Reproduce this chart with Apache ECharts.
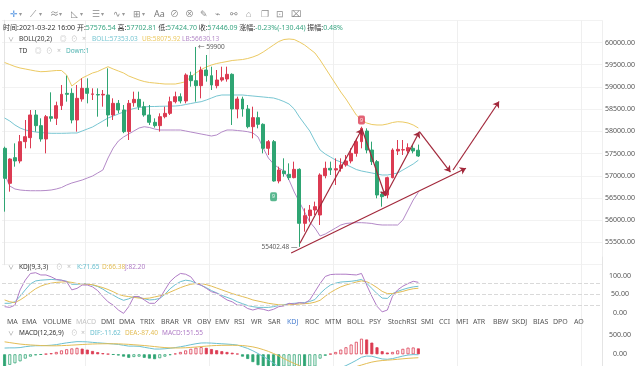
<!DOCTYPE html>
<html><head><meta charset="utf-8">
<script src="https://cdn.jsdelivr.net/npm/echarts@6/dist/echarts.min.js"></script>
<style>html,body{margin:0;padding:0;background:#fff}#c{width:640px;height:366px}</style>
</head><body><div id="c"></div>
<script>
// ---------- DATA ----------
const slotCount = 116;               // 81 candles + empty future slots
const categories = Array.from({length: slotCount}, (_, i) => String(i));

// [open, high, low, close]
const candles = [
[57619,57656,56194,56944],[56832,57394,56644,57379],[57409,57731,57206,57334],[57334,57919,57281,57769],[57769,58256,57619,57881],
[57859,58481,57619,58369],[58369,58481,57994,58129],[58129,58294,57769,57829],[57829,58369,57506,58331],[58331,58879,58219,58294],
[58294,58669,58144,58579],[58579,59044,58481,58834],[58856,59254,58669,58834],[58856,58969,58181,58256],[58256,59044,57994,58744],
[58729,59194,58669,58969],[58969,59194,58631,58856],[58834,58969,58706,58844],[58829,58969,58331,58819],[58819,58931,58556,58834],
[58819,59419,58106,58369],[58369,58744,58256,58631],[58631,58706,58406,58481],[58481,58594,57960,57994],[57994,58706,57806,58631],
[58646,58894,58556,58721],[58721,58894,58481,58556],[58556,58669,58331,58369],[58369,58594,58144,58204],[58204,58294,58084,58129],
[58129,58406,57994,58331],[58331,58556,58294,58406],[58406,58781,58369,58669],[58669,58894,58631,58781],[58781,58856,58631,58684],
[58684,59306,58631,59269],[59254,59344,59006,59141],[59141,59900,58669,59029],[59029,59456,58744,59381],[59381,59719,59119,59254],
[59254,59456,58931,59044],[59029,59381,58969,59156],[59156,59456,59119,59209],[59179,59456,59119,59284],[59284,59306,58144,58504],
[58504,58781,58294,58729],[58729,58781,58331,58504],[58504,58594,58069,58106],[58106,58556,57844,58309],[58309,58444,58069,58159],
[58159,58181,57506,57619],[57619,57806,57469,57769],[57769,57806,56869,56884],[56884,57206,56831,57131],[57109,57394,56981,57049],
[57034,57281,56906,56959],[56959,57319,56944,57146],[57146,57169,55402.48,55931],[55931,56269,55744,56104],[56104,56344,55969,56231],
[56231,56419,56119,56306],[56119,57056,55894,57019],[57004,57319,56944,57169],[57169,57319,57019,57131],[57131,57394,56794,57161],
[57169,57394,57094,57244],[57244,57469,57206,57334],[57334,57619,57281,57506],[57506,57844,57431,57769],[57769,58106,57619,58069],
[58009,58069,57506,57581],[57581,57769,57244,57319],[57319,57356,56494,56569],[56584,56644,56306,56531],[56569,56981,56494,56959],
[56959,57619,56944,57581],[57559,57806,57469,57596],[57581,57806,57469,57589],[57559,57731,57506,57634],[57619,57694,57506,57559],
[57576.54,57702.81,57424.70,57446.09]
];

const bollUp = [
59550,59505,59460,59426,59404,59381,59359,59343,59348,59359,
59370,59370,59269,59021,59111,59201,59257,59314,59348,59404,
59455,59404,59359,59314,59246,59201,59156,59122,59100,59089,
59077,59066,59066,59066,59089,59118,59224,59314,59392,59449,
59494,59527,59550,59572,59595,59606,59617,59640,59674,59719,
59786,59865,59944,60022,60067,60079,60067,60011,59944,59854,
59764,59606,59426,59246,59066,58886,58729,58549,58369,58256,
58189,58155,58144,58144,58166,58200,58218,58211,58189,58144,
58075.92];
const bollMid = [
58301,58234,58144,58076,58031,58009,57986,57975,57964,57957,
57957,57957,57959,57964,57964,58009,58054,58099,58166,58234,
58301,58346,58391,58436,58481,58515,58537,58549,58560,58560,
58564,58567,58569,58571,58582,58605,58627,58650,58668,58706,
58751,58796,58819,58819,58819,58819,58819,58807,58796,58785,
58774,58762,58751,58717,58672,58616,58504,58324,58166,58009,
57784,57581,57491,57424,57356,57311,57255,57199,57142,57109,
57086,57064,57041,57019,57019,57041,57064,57131,57199,57266,
57353.03];
const bollLow = [
57041,56771,56704,56681,56670,56665,56665,56665,56670,56681,
56704,56737,56794,56839,56872,56906,56951,56996,57064,57131,
57401,57626,57784,57874,57941,58009,58076,58105,58088,58054,
58031,58031,58031,58031,58031,58009,57986,57964,57941,57919,
57896,57919,57986,58031,58031,58020,58009,57993,57964,57874,
57626,57401,57266,57176,57109,56906,56636,56411,56186,55961,
55826,55646,55691,55759,55826,55894,55928,55939,55946,55946,
55939,55928,55905,55894,55894,55894,55894,56006,56231,56456,
56630.13];

const kdjK = [
26,26,30,45,62,78,86,88,89,90, 89,88,85,77,77,79,78,75,71,64,
55,48,40,34,38,44,42,38,35,36, 39,50,65,76,84,88,86,80,74,68,
60,54,47,42,37,30,25,20,17,15, 15,15,17,20,22,25,26,27,28,31,
36,52,65,75,80,83,84,85,87,90, 80,66,52,40,39,52,58,63,67,70, 71.65];
const kdjD = [
35,30,28,35,44,55,65,72,77,80, 82,83,84,82,79,78,77,76,72,68,
63,57,50,46,44,42,40,39,40,43, 46,50,56,62,68,73,77,79,79,76,
72,67,62,57,52,48,44,40,35,32, 29,26,24,22,21,22,23,24,25,26,
29,34,45,55,63,70,75,79,83,86, 84,77,68,58,52,52,55,58,62,65, 66.38];
const kdjJ = [
17,15,21,62,88,106,108,102,102,97, 90,88,84,62,66,75,75,70,60,44,
30,21,8,-1,17,44,44,35,26,26, 39,62,84,97,106,104,97,79,75,66,
57,53,44,35,30,21,21,12,8,12, 10,6,10,17,19,26,24,28,26,35,
57,79,98,103,104,104,104,103,102,106, 75,45,18,3,8,45,62,72,79,85, 82.2];

const macdHist = [
-320,-270,-230,-180,-110,-60,-25,-10,10,30, 60,100,130,150,165,145,120,85,55,30,
10,-10,-30,-60,-90,-70,-60,-90,-110,-125, -100,-60,-20,20,60,100,140,170,185,165,
135,105,80,60,40,15,-60,-120,-200,-280, -350,-420,-500,-560,-540,-520,-480,-450,-470,-420,
-330,-110,-40,10,60,120,180,250,320,400, 380,300,180,80,45,60,100,140,170,175, 151.55];
const macdDif = [
160,165,165,172,195,210,220,220,225,233, 248,272,293,310,325,323,318,306,295,285,
276,265,253,232,210,210,205,180,157,135, 134,142,155,172,193,218,246,271,290,292,
287,278,270,262,252,237,195,150,90,20, -55,-135,-230,-320,-380,-435,-475,-515,-580,-605,
-595,-500,-465,-433,-395,-345,-290,-225,-155,-75, -45,-50,-85,-120,-128,-110,-78,-45,-19,-8, -11.62];
const macdDea = [
320,300,280,262,250,240,232,225,220,218, 218,222,228,235,243,251,258,264,268,270,
271,270,268,262,255,245,235,225,212,198, 184,172,165,162,163,168,176,186,198,210,
220,226,230,232,232,230,225,210,190,160, 120,75,20,-40,-110,-175,-235,-290,-345,-395,
-430,-445,-445,-438,-425,-405,-380,-350,-315,-275, -235,-200,-175,-160,-150,-140,-128,-115,-104,-95, -87.4];

const priceTickLabels = [55500,56000,56500,57000,57500,58000,58500,59000,59500,60000];
const kdjTickLabels = [0,50,100];
const macdTickLabels = [0,500];
const lastPrice = 57446.09;

// drawn annotations: [[slot, price],[slot, price]] (arrow at end)
const arrows = [
  [[55.4,55264],[89.2,57171]],
  [[57.1,55482],[69.1,58054]],
  [[69.1,58054],[73.6,56546]],
  [[73.6,56546],[80.2,57993]],
  [[80.2,57993],[86.2,57086]],
  [[86.7,57131],[95.6,58672]]
];
const tdMarks = [{slot:52, price:56530, dir:'down'}, {slot:69, price:58256, dir:'up'}];
const priceNotes = [{slot:37, price:59900, text:'← 59900', pos:'right'}, {slot:57, price:55402.48, text:'55402.48 —', pos:'left'}];

// ---------- STYLE / LAYOUT ----------
const RED = '#dc3b52', GREEN = '#2fa573', ARROW = '#a2283b';
const C_MID = '#78c6d2', C_UP = '#ecca63', C_LOW = '#b48ac8';
const C_K = '#6cc0d0', C_D = '#e3bd55', C_J = '#b07cc6';
const FONT = '"Noto Sans","Noto Sans CJK SC",sans-serif';
const vSplitIdx = [16,40,64,88,112];
const hist = macdHist.map((v, i) => {
  const rising = i > 0 ? v > macdHist[i-1] : false;
  const col = v >= 0 ? RED : GREEN;
  return {value: v, itemStyle: rising ? {color:'#fff', borderColor: col, borderWidth: 0.8} : {color: col, borderColor: col, borderWidth: 0.8}};
});

function catAxis(grid){
  return {type:'category', gridIndex:grid, data:categories, boundaryGap:true,
    axisLine:{show:false}, axisTick:{show:false}, axisLabel:{show:false},
    splitLine:{show:true, interval:(i)=>vSplitIdx.includes(i), lineStyle:{color:'#efefef', width:1}}};
}
function valAxis(grid, min, max, interval, ticks, split){
  return {type:'value', gridIndex:grid, position:'right', min, max, interval, scale:false,
    axisLine:{show:true, lineStyle:{color:'#e4e4e4'}}, axisTick:{show:false},
    axisLabel:{show:true, margin:18, align:'center', fontSize:7, color:'#555', fontFamily:FONT,
      formatter:(v)=> ticks.includes(v) ? v.toFixed(2) : ''},
    splitLine:{show:split, lineStyle:{color:'#f2f2f2', width:1}}};
}

function t(x, y, text, color, size, extra){
  return Object.assign({type:'text', x, y, silent:true, z:100,
    style:{text, fill:color, font:`${size}px ${FONT}`, verticalAlign:'middle'}}, extra||{});
}
const toolbar = [['✛',10,'#4a8fe0'],['▾',19,'#999'],['⟋',30,'#888'],['▾',39,'#999'],['≈',50,'#888'],['▾',59,'#999'],
  ['◺',71,'#888'],['▾',80,'#999'],['☰',92,'#888'],['▾',101,'#999'],['∿',113,'#888'],['▾',122,'#999'],['⊞',133,'#888'],['▾',142,'#999'],
  ['Aa',154,'#777'],['⊘',170,'#888'],['⊗',185,'#888'],['✎',200,'#888'],['⌁',215,'#888'],['⚯',230,'#888'],['⌂',246,'#888'],['❐',261,'#888'],['⊡',276,'#888'],['⌧',291,'#888']];
const tabs = [['MA',7],['EMA',22],['VOLUME',43],['MACD',76],['DMI',101],['DMA',119],['TRIX',140],['BRAR',161],['VR',183],['OBV',197],
  ['EMV',215],['RSI',234],['WR',251],['SAR',268],['KDJ',287],['ROC',305],['MTM',325],['BOLL',347],['PSY',369],['StochRSI',388],
  ['SMI',421],['CCI',439],['MFI',456],['ATR',473],['BBW',493],['SKDJ',512],['BIAS',533],['DPO',553],['AO',574]];

const graphics = [];
toolbar.forEach(([g,x,c]) => graphics.push(t(x, 14, g, c, g==='▾'?6:9)));
graphics.push({type:'text', x:3, y:28, silent:true, z:100, style:{
  text:'{l|时间:2021-03-22 16:00 }{l|开:}{v|57576.54 }{l|高:}{v|57702.81 }{l|低:}{v|57424.70 }{l|收:}{v|57446.09 }{l|涨幅:}{v|-0.23%(-130.44) }{l|振幅:}{v|0.48%}',
  verticalAlign:'middle', font:`7px ${FONT}`,
  rich:{l:{fill:'#333', fontSize:7, fontFamily:FONT}, v:{fill:'#3aa683', fontSize:7, fontFamily:FONT}}}});
// BOLL legend
graphics.push(t(8,39,'∨','#999',6), t(19,39,'BOLL(20,2)','#333',6.5), t(60,39,'◎','#bbb',6.5), t(71,39,'⊙','#bbb',6.5), t(82,39,'×','#bbb',7),
  t(92,39,'BOLL:57353.03',C_MID,6.5), t(142,39,'UB:58075.92',C_UP,6.5), t(182,39,'LB:56630.13',C_LOW,6.5));
graphics.push(t(19,51,'TD','#333',6.5), t(35,51,'◎','#bbb',6.5), t(46,51,'⊙','#bbb',6.5), t(57,51,'×','#bbb',7), t(66,51,'Down:1','#4fb3b0',6.5));
// KDJ legend
graphics.push(t(8,267,'∨','#999',6), t(19,267,'KDJ(9,3,3)','#333',6.5), t(56,267,'⊙','#bbb',6.5), t(67,267,'×','#bbb',7),
  t(77,267,'K:71.65',C_K,6.5), t(102,267,'D:66.38',C_D,6.5), t(125,267,'J:82.20',C_J,6.5));
// tabs
tabs.forEach(([n,x]) => graphics.push(t(x, 322, n, n==='MACD'?'#c4c4c4':(n==='KDJ'?'#4a7fd0':'#555'), 7)));
// MACD legend
graphics.push(t(8,333,'∨','#999',6), t(19,333,'MACD(12,26,9)','#333',6.5), t(71,333,'⊙','#bbb',6.5), t(81,333,'×','#bbb',7),
  t(90,333,'DIF:-11.62',C_K,6.5), t(125,333,'DEA:-87.40',C_D,6.5), t(162,333,'MACD:151.55',C_J,6.5));

const option = {
  animation:false,
  backgroundColor:'#fff',
  textStyle:{fontFamily:FONT},
  grid:[
    {left:2, right:38, top:20.28, height:244.44},
    {left:2, right:38, top:257.05, height:74.6},
    {left:2, right:38, top:327, height:40}
  ],
  xAxis:[catAxis(0), {type:'value', gridIndex:0, min:-0.5, max:slotCount-0.5, show:false, splitLine:{show:false}},
         catAxis(1), catAxis(2)],
  yAxis:[valAxis(0,55000,60500,500,priceTickLabels,true), valAxis(1,-50,150,50,kdjTickLabels,false), valAxis(2,-300,700,100,macdTickLabels,false)],
  graphic:graphics,
  series:[
    {type:'candlestick', xAxisIndex:0, yAxisIndex:0, barWidth:3.4,
      data:candles.map(c=>[c[0],c[3],c[2],c[1]]),
      itemStyle:{color:RED, color0:GREEN, borderColor:RED, borderColor0:GREEN, borderWidth:1},
      markLine:{silent:true, symbol:'none', data:[{yAxis:lastPrice}], lineStyle:{opacity:0},
        label:{position:'end', distance:1, formatter:()=>lastPrice.toFixed(2), color:'#fff', backgroundColor:'#3aa673',
          padding:[2,3,2,3], fontSize:7, fontFamily:FONT}}},
    {type:'line', xAxisIndex:0, yAxisIndex:0, data:bollUp, symbol:'none', lineStyle:{color:C_UP, width:1}, z:1},
    {type:'line', xAxisIndex:0, yAxisIndex:0, data:bollMid, symbol:'none', lineStyle:{color:C_MID, width:1}, z:1},
    {type:'line', xAxisIndex:0, yAxisIndex:0, data:bollLow, symbol:'none', lineStyle:{color:C_LOW, width:1}, z:1},
    {type:'lines', coordinateSystem:'cartesian2d', xAxisIndex:1, yAxisIndex:0, symbol:['none','arrow'], symbolSize:[0,6],
      lineStyle:{color:ARROW, width:1.2, opacity:1, curveness:0}, z:5,
      data:arrows.map(a=>({coords:a}))},
    {type:'scatter', xAxisIndex:0, yAxisIndex:0, symbol:'roundRect', symbolSize:[7,9], z:6,
      data:tdMarks.map(m=>({value:[m.slot,m.price], itemStyle:{color: m.dir==='down'?GREEN:RED}})),
      label:{show:true, position:'inside', formatter:'9', color:'#fff', fontSize:6, fontFamily:FONT}},
    {type:'scatter', xAxisIndex:0, yAxisIndex:0, symbol:'circle', symbolSize:0.01, z:7,
      itemStyle:{color:'rgba(0,0,0,0)'},
      data:priceNotes.map(n=>({value:[n.slot,n.price], label:{show:true, position:n.pos, formatter:n.text}})),
      label:{show:true, distance:2, color:'#333', fontSize:6.5, fontFamily:FONT}},
    {type:'line', xAxisIndex:2, yAxisIndex:1, data:kdjK, symbol:'none', lineStyle:{color:C_K, width:1},
      markLine:{silent:true, symbol:'none', label:{show:false}, lineStyle:{type:'dashed', color:'#d9d9d9', width:1},
        data:[{yAxis:20},{yAxis:50},{yAxis:80}]}},
    {type:'line', xAxisIndex:2, yAxisIndex:1, data:kdjD, symbol:'none', lineStyle:{color:C_D, width:1}},
    {type:'line', xAxisIndex:2, yAxisIndex:1, data:kdjJ, symbol:'none', lineStyle:{color:C_J, width:1}},
    {type:'bar', xAxisIndex:3, yAxisIndex:2, data:hist, barWidth:3},
    {type:'line', xAxisIndex:3, yAxisIndex:2, data:macdDif, symbol:'none', lineStyle:{color:C_K, width:1}},
    {type:'line', xAxisIndex:3, yAxisIndex:2, data:macdDea, symbol:'none', lineStyle:{color:C_D, width:1}}
  ]
};
const chart = echarts.init(document.getElementById('c'), null, {renderer:'canvas'});
chart.setOption(option);
</script></body></html>
